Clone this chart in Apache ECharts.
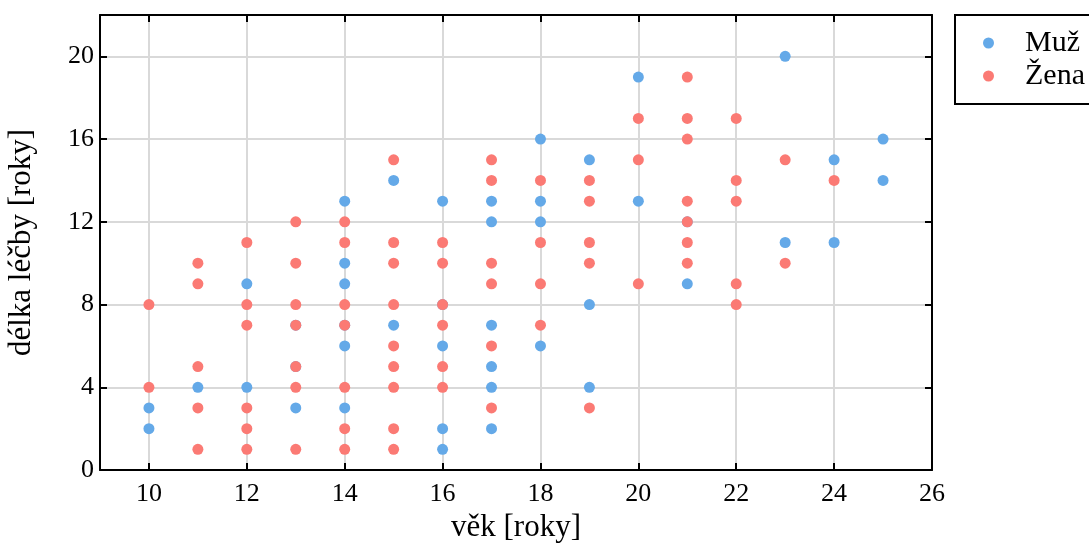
<!DOCTYPE html>
<html>
<head>
    <meta charset="utf-8">
    <title>délka léčby</title>
    <script src="https://cdn.jsdelivr.net/npm/echarts@6/dist/echarts.min.js"></script>
    <style>
        body { margin: 0; background: #fff; }
        #chart { width: 1089px; height: 545px; }
    </style>
</head>
<body>
<div id="chart"></div>
<script>
    // data
    var muzVek    = [10,10,11,12,12,13,13,13,14,14,14,14,14,14,15,15,16,16,16,16,16,17,17,17,17,17,17,18,18,18,18,19,19,19,20,20,21,21,23,23,24,24,25,25];
    var muzDelka  = [ 3, 2, 4, 9, 4, 3, 5, 7,13,10, 9, 6, 3, 7,14, 7,13, 6, 2, 1, 8,13,12, 7, 5, 4, 2,16,13,12, 6,15, 8, 4,19,13, 9,12,20,11,15,11,16,14];
    var zenaVek   = [10,10,11,11,11,11,11,12,12,12,12,12,12,13,13,13,13,13,13,13,14,14,14,14,14,14,14,15,15,15,15,15,15,15,15,15,16,16,16,16,16,16,17,17,17,17,17,17,18,18,18,18,19,19,19,19,19,20,20,20,21,21,21,21,21,21,21,22,22,22,22,22,23,23,24];
    var zenaDelka = [ 8, 4,10, 9, 5, 3, 1,11, 8, 7, 3, 2, 1,12,10, 8, 7, 5, 4, 1,12,11, 8, 7, 4, 2, 1,15,11,10, 8, 6, 5, 4, 2, 1,11,10, 8, 7, 5, 4,15,14,10, 9, 6, 3,14,11, 9, 7,14,13,11,10, 3,17,15, 9,19,17,16,13,12,11,10,17,14,13, 9, 8,15,10,14];
    var xTicks = [10,12,14,16,18,20,22,24,26];
    var seriesNames = ['Muž', 'Žena'];

    function pairs(xs, ys) {
        return xs.map(function (x, i) { return [x, ys[i]]; });
    }

    var font = 'Liberation Serif';
    var myChart = echarts.init(document.getElementById('chart'));

    var xBase = {
        type: 'value', min: 9, max: 26,
        axisLine: { show: true, onZero: false, lineStyle: { color: '#000', width: 2 } },
        axisTick: { show: true, inside: true, length: 7, customValues: xTicks, lineStyle: { color: '#000', width: 2 } },
        splitLine: { show: false }
    };
    var yBase = {
        type: 'value', min: 0, max: 22, interval: 4,
        axisLine: { show: true, onZero: false, lineStyle: { color: '#000', width: 2 } },
        axisTick: { show: true, inside: true, length: 7, lineStyle: { color: '#000', width: 2 } },
        splitLine: { show: false }
    };

    var option = {
        backgroundColor: '#fff',
        animation: false,
        textStyle: { fontFamily: font },
        grid: { left: 100, right: 157, top: 15, bottom: 75, outerBoundsMode: 'none', containLabel: false },
        legend: {
            orient: 'vertical',
            left: 955, top: 15,
            data: seriesNames,
            icon: 'circle',
            itemWidth: 11, itemHeight: 11,
            itemGap: 3,
            padding: [13, 14, 13, 28],
            borderColor: '#000', borderWidth: 2, borderRadius: 0,
            textStyle: { fontFamily: font, fontSize: 30, color: '#000', lineHeight: 30, padding: [0, 0, 0, 26] }
        },
        xAxis: [
            echarts.util.merge({
                position: 'bottom',
                name: 'věk [roky]', nameLocation: 'middle', nameGap: 41,
                nameTextStyle: { fontFamily: font, fontSize: 31, color: '#000' },
                axisLabel: { customValues: xTicks, fontFamily: font, fontSize: 26, color: '#000', margin: 11 },
                splitLine: { show: true, customValues: xTicks, lineStyle: { color: '#d9d9d9', width: 2 } }
            }, xBase, false),
            echarts.util.merge({ position: 'top', axisLabel: { show: false } }, xBase, false)
        ],
        yAxis: [
            echarts.util.merge({
                position: 'left',
                name: 'délka léčby [roky]', nameLocation: 'middle', nameGap: 63,
                nameTextStyle: { fontFamily: font, fontSize: 31, color: '#000' },
                axisLabel: { fontFamily: font, fontSize: 26, color: '#000', margin: 6, showMaxLabel: false },
                splitLine: { show: true, lineStyle: { color: '#d9d9d9', width: 2 } }
            }, yBase, false),
            echarts.util.merge({ position: 'right', axisLabel: { show: false } }, yBase, false)
        ],
        series: [
            {
                name: seriesNames[0], type: 'scatter', symbolSize: 11,
                itemStyle: { color: '#64a9e8', opacity: 1 },
                data: pairs(muzVek, muzDelka)
            },
            {
                name: seriesNames[1], type: 'scatter', symbolSize: 11,
                itemStyle: { color: '#fb7a74', opacity: 1 },
                data: pairs(zenaVek, zenaDelka)
            }
        ]
    };
    myChart.setOption(option);
</script>
</body>
</html>
